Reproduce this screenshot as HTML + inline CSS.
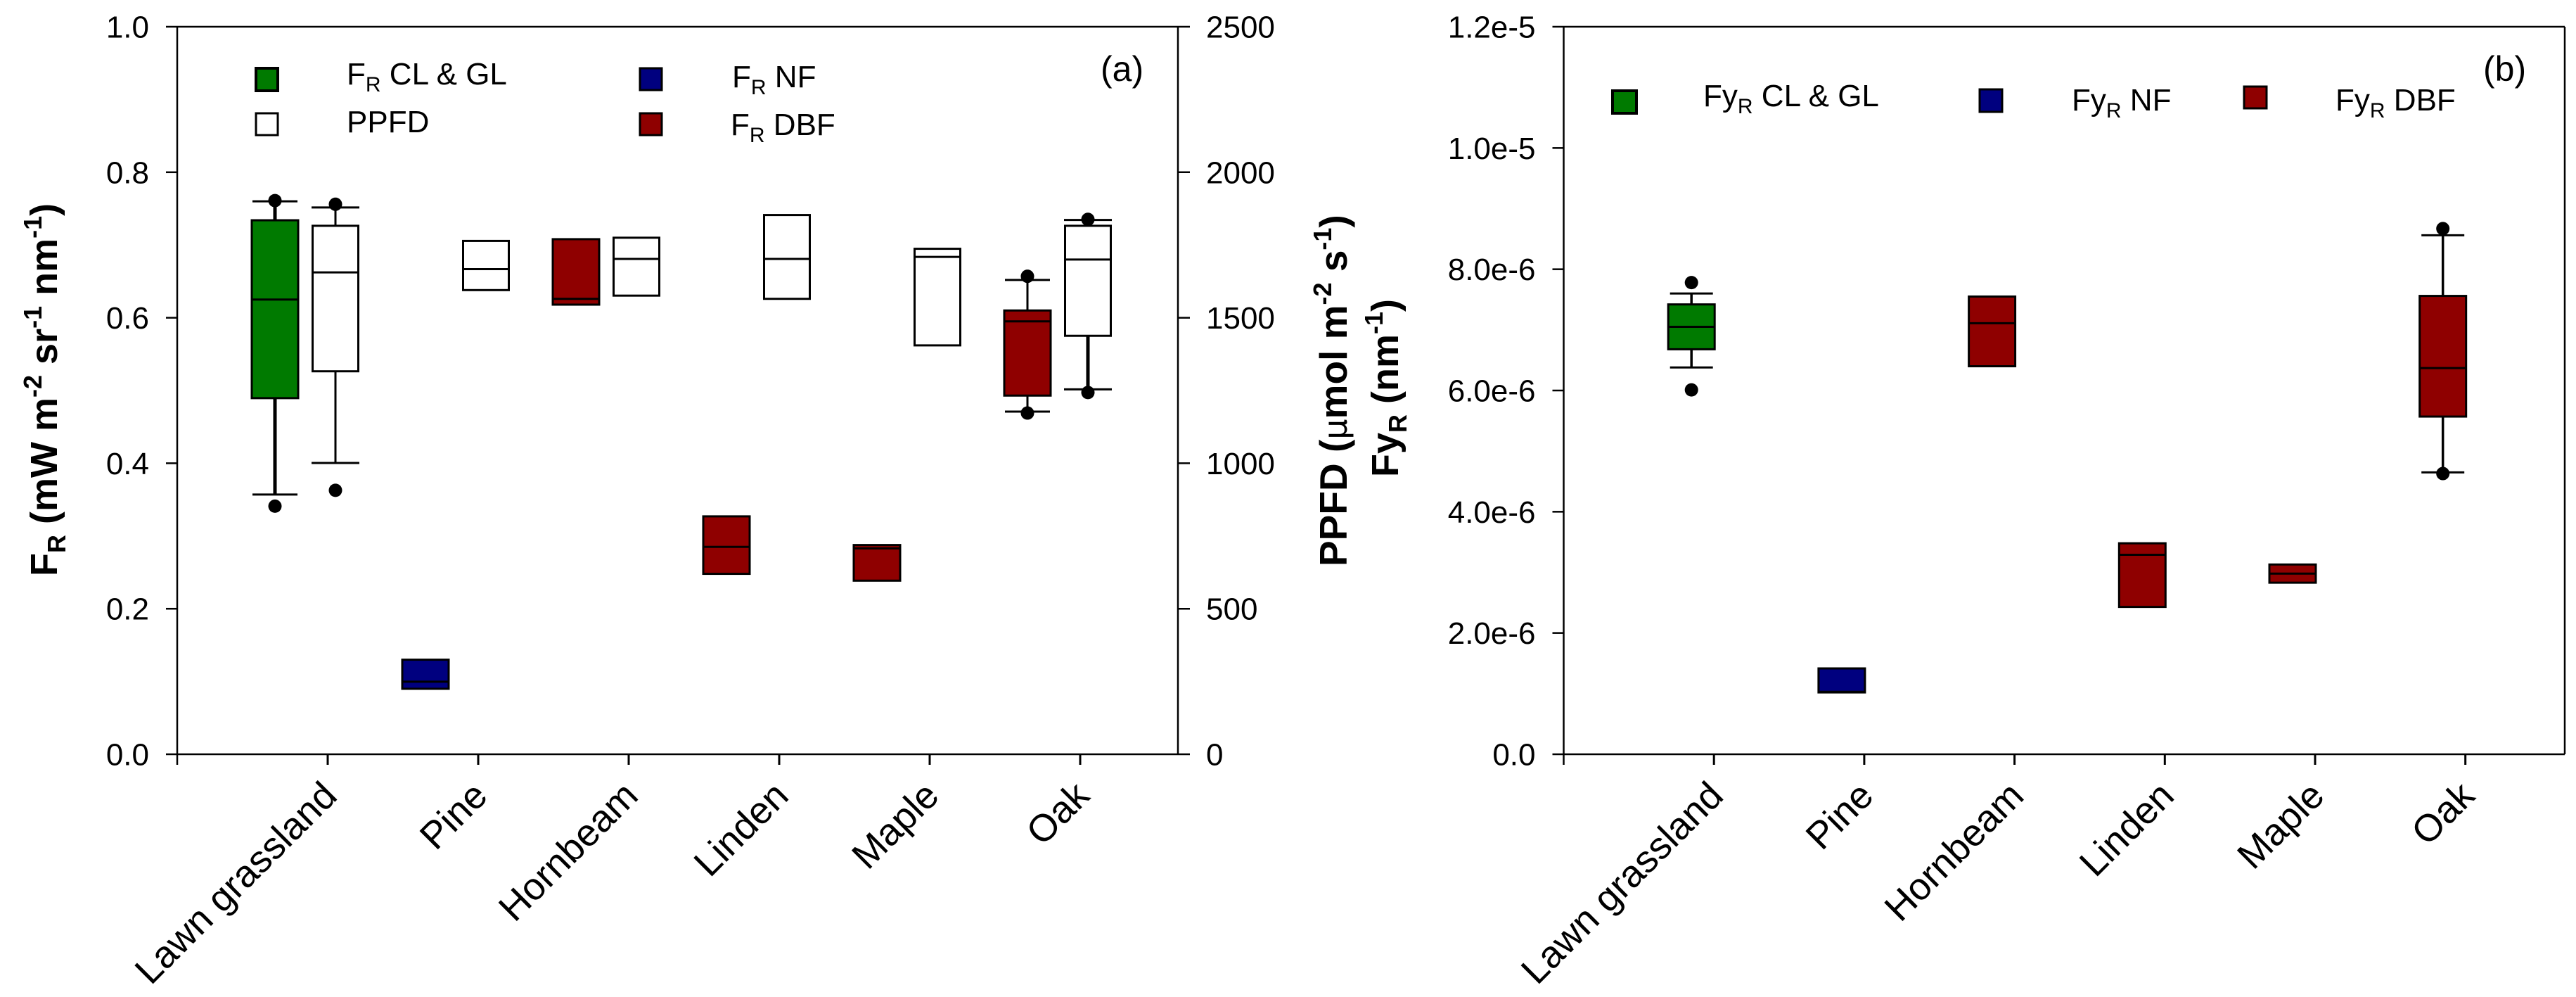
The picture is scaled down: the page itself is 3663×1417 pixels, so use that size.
<!DOCTYPE html>
<html><head><meta charset="utf-8"><title>FR and FyR box plots</title>
<style>html,body{margin:0;padding:0;background:#fff}svg{display:block}text{font-family:"Liberation Sans",Arial,sans-serif;fill:#000}</style></head>
<body>
<svg id="chart" xmlns="http://www.w3.org/2000/svg" width="3663" height="1417" viewBox="0 0 3663 1417">
<rect x="0" y="0" width="3663" height="1417" fill="#fff"/>
<g id="plotA"></g>
<g id="plotB"></g>

<text transform="translate(81,819) rotate(-90)" font-size="54" font-weight="bold">F<tspan font-size="36" dy="12">R</tspan><tspan dy="-12"> (mW m</tspan><tspan font-size="36" dy="-22">-2</tspan><tspan dy="22"> sr</tspan><tspan font-size="36" dy="-22">-1</tspan><tspan dy="22"> nm</tspan><tspan font-size="36" dy="-22">-1</tspan><tspan dy="22">)</tspan></text>
<text transform="translate(1915,805) rotate(-90)" font-size="55" font-weight="bold">PPFD (<tspan font-family="'DejaVu Sans',sans-serif" font-weight="normal" font-size="46">µ</tspan>mol m<tspan font-size="36" dy="-22">-2</tspan><tspan dy="22"> s</tspan><tspan font-size="36" dy="-22">-1</tspan><tspan dy="22">)</tspan></text>
<text transform="translate(1988,678) rotate(-90)" font-size="54" font-weight="bold">Fy<tspan font-size="36" dy="12">R</tspan><tspan dy="-12"> (nm</tspan><tspan font-size="36" dy="-22">-1</tspan><tspan dy="22">)</tspan></text>

<rect x="364" y="97" width="31" height="32" fill="#007a00" stroke="#000" stroke-width="4"/>
<text x="493" y="120" font-size="44">F<tspan font-size="30" dy="10">R</tspan><tspan dy="-10"> CL &amp; GL</tspan></text>
<rect x="364" y="161" width="31" height="31" fill="#fff" stroke="#000" stroke-width="3"/>
<text x="493" y="188" font-size="44">PPFD</text>
<rect x="910" y="97" width="31" height="31" fill="#00007f" stroke="#000" stroke-width="3"/>
<text x="1041" y="124" font-size="44">F<tspan font-size="30" dy="10">R</tspan><tspan dy="-10"> NF</tspan></text>
<rect x="910" y="161" width="31" height="31" fill="#8f0000" stroke="#000" stroke-width="3"/>
<text x="1039" y="192" font-size="44">F<tspan font-size="30" dy="10">R</tspan><tspan dy="-10"> DBF</tspan></text>
<text x="1565" y="115" font-size="50">(a)</text>

<rect x="2293" y="129" width="34" height="32" fill="#007a00" stroke="#000" stroke-width="4"/>
<text x="2422" y="151" font-size="44">Fy<tspan font-size="30" dy="10">R</tspan><tspan dy="-10"> CL &amp; GL</tspan></text>
<rect x="2815" y="127" width="32" height="32" fill="#00007f" stroke="#000" stroke-width="3"/>
<text x="2946" y="157" font-size="44">Fy<tspan font-size="30" dy="10">R</tspan><tspan dy="-10"> NF</tspan></text>
<rect x="3191" y="123" width="32" height="31" fill="#8f0000" stroke="#000" stroke-width="3"/>
<text x="3321" y="157" font-size="44">Fy<tspan font-size="30" dy="10">R</tspan><tspan dy="-10"> DBF</tspan></text>
<text x="3531" y="115" font-size="50">(b)</text>
</svg>
<script>
const categories = ['Lawn grassland','Pine','Hornbeam','Linden','Maple','Oak'];
const leftTicksA = [0,0.2,0.4,0.6,0.8,1.0];
const leftTickLabelsA = ['0.0','0.2','0.4','0.6','0.8','1.0'];
const rightTicksA = [0,500,1000,1500,2000,2500];
const rightTickLabelsA = ['0','500','1000','1500','2000','2500'];
const ticksB = [0,2e-6,4e-6,6e-6,8e-6,1e-5,1.2e-5];
const tickLabelsB = ['0.0','2.0e-6','4.0e-6','6.0e-6','8.0e-6','1.0e-5','1.2e-5'];

const frQ1 = [0.4895,0.090,0.618,0.248,0.2386,0.493];
const frMedian = [0.625,0.0997,0.626,0.285,0.283,0.595];
const frQ3 = [0.734,0.130,0.708,0.327,0.2876,0.610];
const frWhiskerLow = [0.357,null,null,null,null,0.471];
const frWhiskerHigh = [0.760,null,null,null,null,0.652];
const frOutlierLow = [0.341,null,null,null,null,0.469];
const frOutlierHigh = [0.761,null,null,null,null,0.657];

const ppfdQ1 = [1316,1595,1576,1565,1405,1438];
const ppfdMedian = [1656,1667,1702,1702,1709,1700];
const ppfdQ3 = [1816,1764,1775,1853,1737,1816];
const ppfdWhiskerLow = [1001,null,null,null,null,1254];
const ppfdWhiskerHigh = [1879,null,null,null,null,1836];
const ppfdOutlierLow = [907,null,null,null,null,1243];
const ppfdOutlierHigh = [1890,null,null,null,null,1838];

const fyrQ1 = [6.68e-6,1.02e-6,6.40e-6,2.43e-6,2.83e-6,5.57e-6];
const fyrMedian = [7.05e-6,1.03e-6,7.11e-6,3.29e-6,2.98e-6,6.37e-6];
const fyrQ3 = [7.42e-6,1.416e-6,7.55e-6,3.48e-6,3.13e-6,7.56e-6];
const fyrWhiskerLow = [6.38e-6,null,null,null,null,4.65e-6];
const fyrWhiskerHigh = [7.60e-6,null,null,null,null,8.56e-6];
const fyrOutlierLow = [6.01e-6,null,null,null,null,4.63e-6];
const fyrOutlierHigh = [7.78e-6,null,null,null,null,8.67e-6];

const categoryColors = ['#007a00','#00007f','#8f0000','#8f0000','#8f0000','#8f0000'];

const NS = 'http://www.w3.org/2000/svg';
const PLOT_TOP = 38, PLOT_BOTTOM = 1072;
const mk = (parent, tag, props) => {
  const el = document.createElementNS(NS, tag);
  for (const k in props) el.setAttribute(k, props[k]);
  parent.appendChild(el);
  return el;
};
const scaleY = (max) => (v) => PLOT_BOTTOM - (v / max) * (PLOT_BOTTOM - PLOT_TOP);
const yFr = scaleY(1.0), yPpfd = scaleY(2500), yFyr = scaleY(1.2e-5);
const xA = (i) => 252 + 214 * (i + 1);
const xB = (i) => 2223.5 + 213.7 * (i + 1);

function drawFrame(g, left, right, xFn) {
  let el;
  el = mk(g, 'line', {x1:left, x2:right, y1:PLOT_TOP, y2:PLOT_TOP, stroke:'#000', 'stroke-width':2.5});
  
  
  el = mk(g, 'line', {x1:left, x2:right, y1:PLOT_BOTTOM, y2:PLOT_BOTTOM, stroke:'#000', 'stroke-width':2.5});
  
  
  el = mk(g, 'line', {x1:left, x2:left, y1:PLOT_TOP, y2:PLOT_BOTTOM, stroke:'#000', 'stroke-width':2.5});
  
  
  el = mk(g, 'line', {x1:right, x2:right, y1:PLOT_TOP, y2:PLOT_BOTTOM, stroke:'#000', 'stroke-width':2.5});
  
  
  el = mk(g, 'line', {x1:left, x2:left, y1:PLOT_BOTTOM, y2:PLOT_BOTTOM + 15, stroke:'#000', 'stroke-width':2.5});
  
  
  categories.forEach((c, i) => {
    const x = xFn(i);
    const t = mk(g, 'line', {x1:x, x2:x, y1:PLOT_BOTTOM, y2:PLOT_BOTTOM + 15, stroke:'#000', 'stroke-width':3});
    
    
    const lx = x + 16, ly = PLOT_BOTTOM + 62;
    const lab = mk(g, 'text', {x:lx, y:ly, 'font-size':54, 'text-anchor':'end', transform:`rotate(-45 ${lx} ${ly})`});
    lab.textContent = c;
    
    
  });
}

function drawYTicks(g, ticks, labels, yFn, axisX, side) {
  ticks.forEach((v, i) => {
    const y = yFn(v);
    const x2 = side === 'left' ? axisX - 16 : axisX + 17;
    const t = mk(g, 'line', {x1:axisX, x2:x2, y1:y, y2:y, stroke:'#000', 'stroke-width':2.5});
    
    
    const lx = side === 'left' ? axisX - 40 : axisX + 40;
    const lab = mk(g, 'text', {x:lx, y:y + 15.5, 'font-size':44, 'text-anchor': side === 'left' ? 'end' : 'start'});
    lab.textContent = labels[i];
    
    
  });
}

function drawBox(g, cx, width, capW, i, q1, med, q3, wl, wh, ol, oh, yFn, fill, lowWidth) {
  const sw = 3;
  let el;
  if (wh[i] !== null) {
    el = mk(g, 'line', {x1:cx, x2:cx, y1:yFn(q3[i]), y2:yFn(wh[i]), stroke:'#000', 'stroke-width':lowWidth});
    
    
    el = mk(g, 'line', {x1:cx - capW / 2, x2:cx + capW / 2, y1:yFn(wh[i]), y2:yFn(wh[i]), stroke:'#000', 'stroke-width':sw});
    
    
  }
  if (wl[i] !== null) {
    el = mk(g, 'line', {x1:cx, x2:cx, y1:yFn(q1[i]), y2:yFn(wl[i]), stroke:'#000', 'stroke-width':lowWidth});
    
    
    el = mk(g, 'line', {x1:cx - capW / 2, x2:cx + capW / 2, y1:yFn(wl[i]), y2:yFn(wl[i]), stroke:'#000', 'stroke-width':sw});
    
    
  }
  el = mk(g, 'rect', {x:cx - width / 2, y:yFn(q3[i]), width:width, height:yFn(q1[i]) - yFn(q3[i]), fill:fill, stroke:'#000', 'stroke-width':sw});
  
  
  el = mk(g, 'line', {x1:cx - width / 2, x2:cx + width / 2, y1:yFn(med[i]), y2:yFn(med[i]), stroke:'#000', 'stroke-width':sw});
  
  
  if (oh[i] !== null) {
    el = mk(g, 'circle', {cx:cx, cy:yFn(oh[i]), r:9.5, fill:'#000'});
    
    
  }
  if (ol[i] !== null) {
    el = mk(g, 'circle', {cx:cx, cy:yFn(ol[i]), r:9.5, fill:'#000'});
    
    
  }
}

const gA = document.getElementById('plotA');
const gB = document.getElementById('plotB');
drawFrame(gA, 252, 1675, xA);
drawFrame(gB, 2223.5, 3647, xB);
drawYTicks(gA, leftTicksA, leftTickLabelsA, yFr, 252, 'left');
drawYTicks(gA, rightTicksA, rightTickLabelsA, yPpfd, 1675, 'right');
drawYTicks(gB, ticksB, tickLabelsB, yFyr, 2223.5, 'left');
categories.forEach((c, i) => {
  drawBox(gA, xA(i) - 75, 66, 64, i, frQ1, frMedian, frQ3, frWhiskerLow, frWhiskerHigh, frOutlierLow, frOutlierHigh, yFr, categoryColors[i], i === 0 ? 5 : 3);
  drawBox(gA, xA(i) + 11, 65, 68, i, ppfdQ1, ppfdMedian, ppfdQ3, ppfdWhiskerLow, ppfdWhiskerHigh, ppfdOutlierLow, ppfdOutlierHigh, yPpfd, '#fff', i === 5 ? 5 : 3);
  drawBox(gB, xB(i) - 32, 66, 61, i, fyrQ1, fyrMedian, fyrQ3, fyrWhiskerLow, fyrWhiskerHigh, fyrOutlierLow, fyrOutlierHigh, yFyr, categoryColors[i], 3.5);
});
</script>
</body></html>
